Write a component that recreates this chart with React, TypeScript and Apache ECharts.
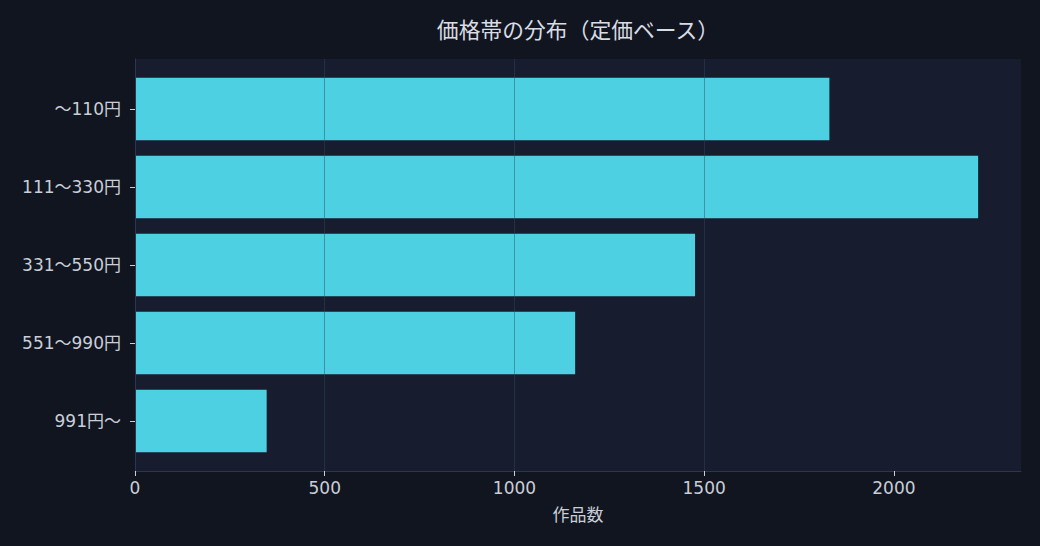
import React, { useEffect, useRef } from 'react';
import * as echarts from 'echarts';

const categories = ['〜110円', '111〜330円', '331〜550円', '551〜990円', '991円〜'];
const counts = [1830, 2222, 1476, 1160, 347];
const xTicks = [0, 500, 1000, 1500, 2000];
const xMax = 2335;

const FONT = '"DejaVu Sans", "Noto Sans CJK JP", sans-serif';
const TEXT = '#c9ced8';
const SPINE = '#2b3750';

export default function App() {
  const chartRef = useRef<HTMLDivElement>(null);

  useEffect(() => {
    if (!chartRef.current) return;
    const chart = echarts.init(chartRef.current, undefined, { renderer: 'svg' });

    chart.setOption({
      animation: false,
      backgroundColor: '#11151f',
      textStyle: { fontFamily: FONT },
      title: {
        text: '価格帯の分布（定価ベース）',
        left: 573,
        top: 15,
        textAlign: 'center',
        textStyle: { color: '#d8dce4', fontSize: 21.8, fontWeight: 'normal', fontFamily: FONT },
      },
      grid: [
        // data grid: 78px per category like the reference
        { left: 135, right: 19, top: 70, bottom: 86 },
        // frame grid: plot background, spines, x ticks and grid lines
        { left: 135, right: 19, top: 59, bottom: 75, show: true, backgroundColor: '#171d2e', borderWidth: 0 },
      ],
      xAxis: [
        { type: 'value', gridIndex: 0, min: 0, max: xMax, show: false },
        {
          type: 'value',
          gridIndex: 1,
          min: 0,
          max: xMax,
          interval: 500,
          z: 5,
          name: '作品数',
          nameLocation: 'middle',
          nameGap: 35,
          nameTextStyle: { color: TEXT, fontSize: 17, fontFamily: FONT },
          axisLine: { show: true, lineStyle: { color: SPINE, width: 1 } },
          axisTick: { show: true, length: 5, customValues: xTicks, lineStyle: { color: TEXT } },
          axisLabel: {
            color: TEXT,
            fontSize: 17,
            margin: 8,
            customValues: xTicks,
            fontFamily: FONT,
            formatter: (v: number) => String(v),
          },
          splitLine: {
            show: true,
            showMaxLine: false,
            lineStyle: { color: 'rgba(45,75,95,0.45)', width: 1 },
          },
        },
      ],
      yAxis: [
        {
          type: 'category',
          gridIndex: 0,
          inverse: true,
          data: categories,
          axisLine: { show: false },
          axisTick: { show: true, alignWithLabel: true, length: 5, lineStyle: { color: TEXT } },
          axisLabel: { color: TEXT, fontSize: 17, margin: 14, fontFamily: FONT },
          splitLine: { show: false },
        },
        {
          type: 'value',
          gridIndex: 1,
          min: 0,
          max: 1,
          z: 5,
          axisLine: { show: true, lineStyle: { color: SPINE, width: 1 } },
          axisTick: { show: false },
          axisLabel: { show: false },
          splitLine: { show: false },
        },
      ],
      series: [
        {
          type: 'bar',
          xAxisIndex: 0,
          yAxisIndex: 0,
          data: counts,
          barWidth: '80%',
          itemStyle: { color: '#4dd0e1' },
        },
      ],
    });

    return () => {
      chart.dispose();
    };
  }, []);

  return (
    <div
      ref={chartRef}
      style={{ position: 'fixed', left: 0, top: 0, width: 1040, height: 546 }}
    />
  );
}
